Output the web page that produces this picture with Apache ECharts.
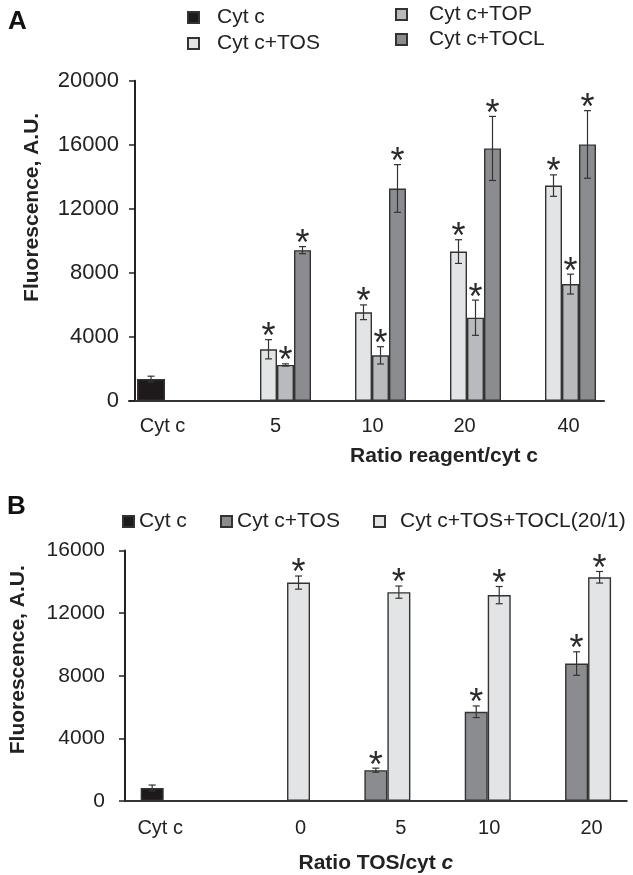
<!DOCTYPE html>
<html><head><meta charset="utf-8">
<script src="https://cdn.jsdelivr.net/npm/echarts@6/dist/echarts.min.js"></script>
<style>html,body{margin:0;padding:0;background:#fff}#c{width:633px;height:875px}</style>
</head><body><div id="c"></div>
<script>
// ---------- Panel A data ----------
const catsA = ['Cyt c', '5', '10', '20', '40'];
const cytcA = [1370, null, null, null, null];
const cytcAErr = [180, null, null, null, null];
const tosA = [null, 3230, 5540, 9330, 13450];
const tosAErr = [null, 600, 460, 740, 670];
const topA = [null, 2250, 2850, 5200, 7300];
const topAErr = [null, 70, 540, 1100, 620];
const toclA = [null, 9420, 13270, 15770, 16020];
const toclAErr = [null, 220, 1490, 2000, 2110];
const yTicksA = [0, 4000, 8000, 12000, 16000, 20000];

// ---------- Panel B data ----------
const catsB = ['Cyt c', '0', '5', '10', '20'];
const cytcB = [830, null, null, null, null];
const cytcBErr = [190, null, null, null, null];
const tosB = [null, null, 1970, 5700, 8780];
const tosBErr = [null, null, 130, 370, 750];
const toclB = [null, 13950, 13340, 13150, 14290];
const toclBErr = [null, 420, 390, 550, 370];
const yTicksB = [0, 4000, 8000, 12000, 16000];

const FONT = 'Liberation Sans, Arial, sans-serif';
const C_BLACK = '#1e1a1b', C_LIGHT = '#e3e4e6', C_MID = '#b9babd', C_DARK = '#8b8c8f';
const BORDER = '#333333';

function errData(vals, errs) {
  const out = [];
  vals.forEach((v, i) => { if (v != null && errs[i] != null) out.push([i, v, errs[i]]); });
  return out;
}
function errSeries(name, xi, yi, vals, errs, offset, star) {
  return {
    type: 'custom', name: name + ' err', xAxisIndex: xi, yAxisIndex: yi, z: 5,
    data: errData(vals, errs),
    renderItem: function (params, api) {
      const idx = api.value(0), v = api.value(1), e = api.value(2);
      const hi = api.coord([idx, v + e]);
      const lo = api.coord([idx, v - e]);
      const x = hi[0] + offset, cap = 3.5;
      const st = { stroke: '#333', lineWidth: 1.2 };
      const ch = [
        { type: 'line', shape: { x1: x, y1: hi[1], x2: x, y2: lo[1] }, style: st },
        { type: 'line', shape: { x1: x - cap, y1: hi[1], x2: x + cap, y2: hi[1] }, style: st },
        { type: 'line', shape: { x1: x - cap, y1: lo[1], x2: x + cap, y2: lo[1] }, style: st }
      ];
      if (star) ch.push({ type: 'text', x: x, y: hi[1] - 1.5, style: { text: '*', fontSize: 36, fontFamily: FONT, fill: '#2a2a2a', align: 'center', verticalAlign: 'middle' } });
      return { type: 'group', children: ch };
    }
  };
}
function richLabels(shifts, size) {
  const rich = {};
  shifts.forEach((d, i) => {
    rich['l' + i] = { fontSize: size, fontFamily: FONT, color: '#222',
      padding: d >= 0 ? [0, 0, 0, 2 * d] : [0, -2 * d, 0, 0] };
  });
  return rich;
}
const barBase = { borderColor: BORDER, borderWidth: 1.4 };
const legText = { fontSize: 21, color: '#222', fontFamily: FONT };

const option = {
  animation: false,
  backgroundColor: '#fff',
  textStyle: { fontFamily: FONT },
  title: [
    { text: 'A', left: 3, top: 4, textStyle: { fontSize: 26, fontWeight: 'bold', color: '#111', fontFamily: FONT } },
    { text: 'B', left: 2, top: 489, textStyle: { fontSize: 26, fontWeight: 'bold', color: '#111', fontFamily: FONT } }
  ],
  legend: [
    { data: ['Cyt c', 'Cyt c+TOS'], orient: 'vertical', left: 187, top: 7, padding: 0, icon: 'rect', itemWidth: 11, itemHeight: 11, itemGap: 5,
      textStyle: Object.assign({ padding: [0, 0, 0, 13] }, legText) },
    { data: ['Cyt c+TOP', 'Cyt c+TOCL'], orient: 'vertical', left: 395, top: 4, padding: 0, icon: 'rect', itemWidth: 11, itemHeight: 11, itemGap: 4,
      textStyle: Object.assign({ padding: [0, 0, 0, 17] }, legText) },
    { data: ['Cyt c '], left: 122, top: 511, padding: 0, icon: 'rect', itemWidth: 11, itemHeight: 11, textStyle: legText },
    { data: ['Cyt c+TOS '], left: 220, top: 511, padding: 0, icon: 'rect', itemWidth: 11, itemHeight: 11, textStyle: legText },
    { data: ['Cyt c+TOS+TOCL(20/1)'], left: 373, top: 511, padding: 0, icon: 'rect', itemWidth: 11, itemHeight: 11,
      textStyle: Object.assign({ padding: [0, 0, 0, 10] }, legText) }
  ],
  grid: [
    { left: 129, right: 29, top: 80.7, bottom: 474, containLabel: false },
    { left: 119.25, right: 6.25, top: 550.5, bottom: 73, containLabel: false }
  ],
  xAxis: [
    { type: 'category', gridIndex: 0, data: catsA,
      axisLine: { lineStyle: { color: '#333', width: 2 } }, axisTick: { show: false },
      axisLabel: { margin: 15, interval: 0, formatter: (v, i) => '{l' + i + '|' + v + '}', rich: richLabels([-14, 4, 6, 3, 12], 20) },
      name: 'Ratio reagent/cyt c', nameLocation: 'middle', nameGap: 45,
      nameTextStyle: { fontSize: 21, fontWeight: 'bold', color: '#222', fontFamily: FONT, padding: [0, 0, 0, 155] } },
    { type: 'category', gridIndex: 1, data: catsB,
      axisLine: { lineStyle: { color: '#333', width: 2 } }, axisTick: { show: false },
      axisLabel: { margin: 17, interval: 0, formatter: (v, i) => '{l' + i + '|' + v + '}', rich: richLabels([-15, 25, 25, 13, 15], 20) },
      name: 'Ratio TOS/cyt {i|c}', nameLocation: 'middle', nameGap: 52,
      nameTextStyle: { fontSize: 21, fontWeight: 'bold', color: '#222', fontFamily: FONT,
        rich: { i: { fontSize: 21, fontWeight: 'bold', fontStyle: 'italic', color: '#222', fontFamily: FONT } } } }
  ],
  yAxis: [
    { type: 'value', gridIndex: 0, min: yTicksA[0], max: yTicksA[yTicksA.length - 1], interval: 4000, offset: -6,
      splitLine: { show: false },
      axisLine: { show: true, lineStyle: { color: '#222', width: 2 } },
      axisTick: { show: true, length: 6, lineStyle: { color: '#222', width: 1.5 } },
      axisLabel: { margin: 16, fontSize: 22, color: '#222', fontFamily: FONT, formatter: v => String(v) },
      name: 'Fluorescence, A.U.', nameLocation: 'middle', nameGap: 92,
      nameTextStyle: { fontSize: 21, fontWeight: 'bold', color: '#222', fontFamily: FONT, padding: [0, 0, 0, 67] } },
    { type: 'value', gridIndex: 1, min: yTicksB[0], max: yTicksB[yTicksB.length - 1], interval: 4000,
      splitLine: { show: false },
      axisLine: { show: true, lineStyle: { color: '#222', width: 2 } },
      axisTick: { show: true, length: 6, lineStyle: { color: '#222', width: 1.5 } },
      axisLabel: { margin: 20, fontSize: 21, color: '#222', fontFamily: FONT, formatter: v => String(v) },
      name: 'Fluorescence, A.U.', nameLocation: 'middle', nameGap: 96,
      nameTextStyle: { fontSize: 21, fontWeight: 'bold', color: '#222', fontFamily: FONT, padding: [0, 0, 0, 32] } }
  ],
  series: [
    // Panel A bars
    { type: 'bar', name: 'Cyt c', xAxisIndex: 0, yAxisIndex: 0, data: cytcA, barWidth: 28, barGap: '0%',
      itemStyle: Object.assign({ color: C_BLACK }, barBase) },
    { type: 'bar', name: 'Cyt c+TOS', xAxisIndex: 0, yAxisIndex: 0, data: tosA, barWidth: 17, barGap: '0%',
      itemStyle: Object.assign({ color: C_LIGHT }, barBase) },
    { type: 'bar', name: 'Cyt c+TOP', xAxisIndex: 0, yAxisIndex: 0, data: topA, barWidth: 17, barGap: '0%',
      itemStyle: Object.assign({ color: C_MID }, barBase) },
    { type: 'bar', name: 'Cyt c+TOCL', xAxisIndex: 0, yAxisIndex: 0, data: toclA, barWidth: 17, barGap: '0%',
      itemStyle: Object.assign({ color: C_DARK }, barBase) },
    errSeries('A cytc', 0, 0, cytcA, cytcAErr, -25.5, false),
    errSeries('A tos', 0, 0, tosA, tosAErr, -3, true),
    errSeries('A top', 0, 0, topA, topAErr, 14, true),
    errSeries('A tocl', 0, 0, toclA, toclAErr, 31, true),
    // Panel B bars
    { type: 'bar', name: 'Cyt c ', xAxisIndex: 1, yAxisIndex: 1, data: cytcB, barWidth: 23, barGap: '0%',
      itemStyle: Object.assign({ color: C_BLACK }, barBase) },
    { type: 'bar', name: 'Cyt c+TOS ', xAxisIndex: 1, yAxisIndex: 1, data: tosB, barWidth: 23, barGap: '0%',
      itemStyle: Object.assign({ color: C_DARK }, barBase) },
    { type: 'bar', name: 'Cyt c+TOS+TOCL(20/1)', xAxisIndex: 1, yAxisIndex: 1, data: toclB, barWidth: 23, barGap: '0%',
      itemStyle: Object.assign({ color: C_LIGHT }, barBase) },
    errSeries('B cytc', 1, 1, cytcB, cytcBErr, -23, false),
    errSeries('B tos', 1, 1, tosB, tosBErr, 0, true),
    errSeries('B tocl', 1, 1, toclB, toclBErr, 23, true)
  ]
};
const chart = echarts.init(document.getElementById('c'), null, { renderer: 'canvas' });
chart.setOption(option);
</script></body></html>
